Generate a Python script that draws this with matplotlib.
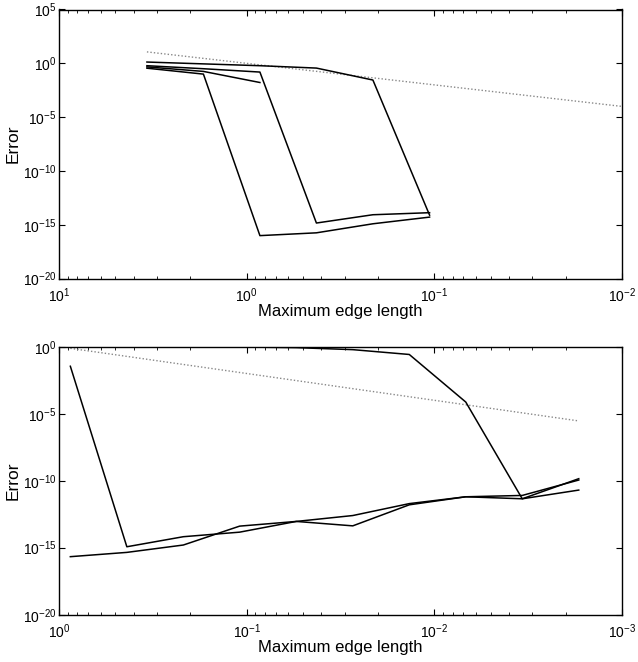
import numpy as np
import matplotlib
matplotlib.use("Agg")
import matplotlib.pyplot as plt
from matplotlib.ticker import FixedLocator, LogLocator, NullLocator, LogFormatterSciNotation

plt.rcParams['font.family'] = ['Liberation Sans', 'DejaVu Sans']
plt.rcParams['mathtext.fontset'] = 'custom'
plt.rcParams['mathtext.rm'] = 'Liberation Sans'
plt.rcParams['mathtext.it'] = 'Liberation Sans:italic'
plt.rcParams['mathtext.bf'] = 'Liberation Sans:bold'

# ---- data (log10 of error) ----
h_top = [3.4, 1.7, 0.85, 0.425, 0.2125, 0.106]
top_a = [0.12, -0.05, -0.22, -0.44, -1.55, -14.1]
top_b = [-0.22, -0.5, -0.81, -14.83, -14.06, -13.87]
top_c = [-0.33, -0.75, -1.78]
top_d = [-0.45, -1.0, -16.0, -15.74, -14.9, -14.28]
ref_top_h = [3.4, 0.01]

h_bot = [0.87, 0.435, 0.2175, 0.109, 0.0544, 0.0272, 0.0136, 0.0068, 0.0034, 0.0017]
bot_1 = [0.0, 0.0, 0.0, -0.02, -0.07, -0.22, -0.58, -4.13, -11.35, -9.85]
bot_2 = [-1.46, -14.93, -14.18, -13.84, -13.04, -12.6, -11.71, -11.2, -11.1, -9.95]
bot_3 = [-15.67, -15.35, -14.8, -13.39, -13.04, -13.37, -11.8, -11.2, -11.35, -10.7]
ref_bot_h = [0.87, 0.0017]

xlim_top = (10, 1e-2)
ylim_top = (1e-20, 1e5)
xlim_bot = (1, 1e-3)
ylim_bot = (1e-20, 1e0)

fig = plt.figure(figsize=(6.38, 6.62), dpi=100)
ax1 = fig.add_axes([59/638, 1-278.7/662, 563/638, 269.2/662])
ax2 = fig.add_axes([59/638, 1-614.7/662, 563/638, 268/662])

def style(ax, xlim, ylim):
    ax.set_xscale('log')
    ax.set_yscale('log')
    ax.set_xlim(*xlim)
    ax.set_ylim(*ylim)
    lo = int(np.log10(ylim[0])); hi = int(np.log10(ylim[1]))
    ax.yaxis.set_major_locator(FixedLocator([10.0**e for e in range(lo, hi+1, 5)]))
    ax.yaxis.set_minor_locator(NullLocator())
    ax.yaxis.set_major_formatter(LogFormatterSciNotation())
    ax.xaxis.set_major_locator(LogLocator(base=10, numticks=10))
    ax.xaxis.set_minor_locator(LogLocator(base=10, subs=np.arange(2, 10), numticks=20))
    ax.tick_params(which='both', direction='in', top=True, right=True, labelsize=10, colors='black')
    ax.tick_params(which='major', length=4, width=0.8)
    ax.tick_params(which='minor', length=2, width=0.6)
    ax.tick_params(axis='x', which='major', pad=5.5)
    ax.tick_params(axis='y', which='major', pad=2)
    for s in ax.spines.values():
        s.set_linewidth(1.0)
    ax.set_xlabel('Maximum edge length', fontsize=12, labelpad=-1)
    ax.set_ylabel('Error', fontsize=12.5)
    ax.yaxis.set_label_coords(-0.068, 0.5)

style(ax1, xlim_top, ylim_top)
style(ax2, xlim_bot, ylim_bot)

def pw(v):
    return [10.0**x for x in v]

rh = np.array(ref_top_h)
ax1.plot(rh, rh**2, linestyle=(0, (1, 1.5)), color='#888888', lw=1.0)
for ser in (top_a, top_b, top_c, top_d):
    ax1.plot(h_top[:len(ser)], pw(ser), color='black', lw=1.1)

rb = np.array(ref_bot_h)
ax2.plot(rb, rb**2, linestyle=(0, (1, 1.5)), color='#888888', lw=1.0)
for ser in (bot_1, bot_2, bot_3):
    ax2.plot(h_bot[:len(ser)], pw(ser), color='black', lw=1.1)

fig.savefig('out.png', dpi=100)
